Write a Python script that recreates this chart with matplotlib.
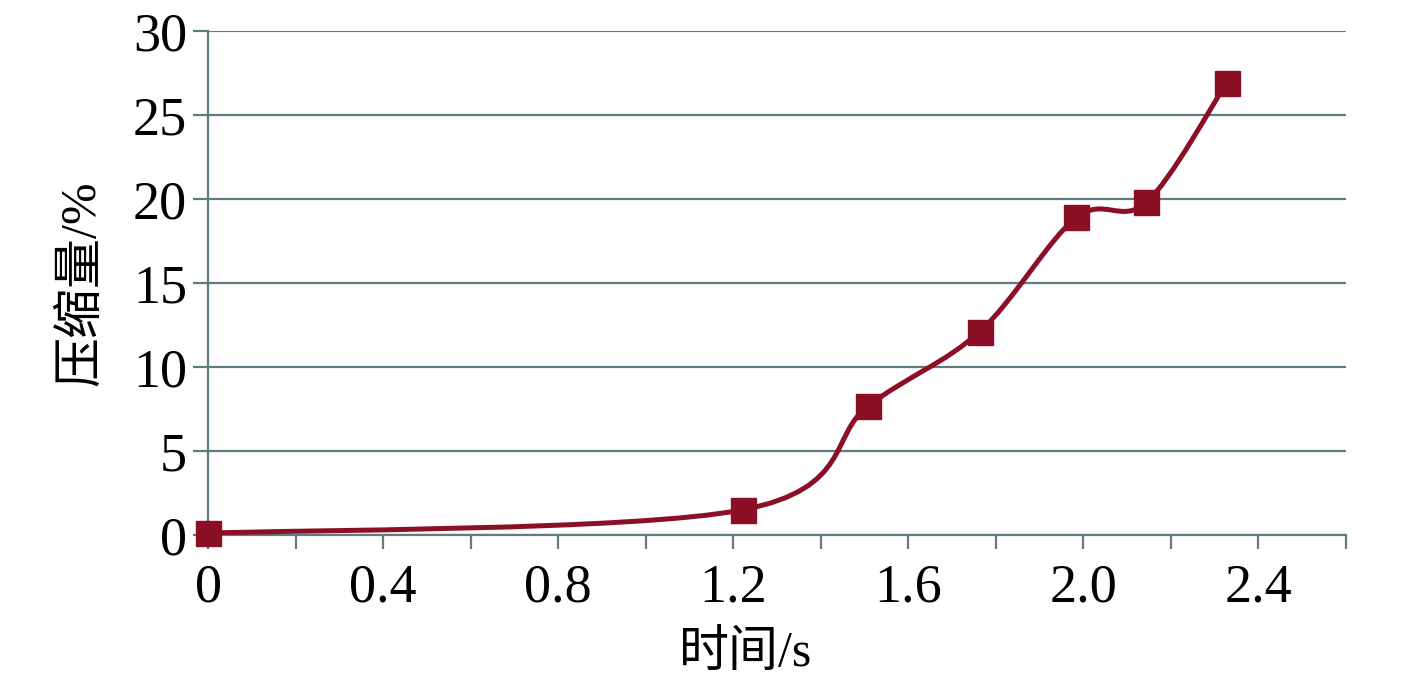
#!/usr/bin/env python3
import numpy as np
import matplotlib
matplotlib.use("Agg")
import matplotlib.pyplot as plt
from matplotlib.path import Path
from matplotlib.patches import PathPatch

plt.rcParams['font.family'] = ['Liberation Serif', 'Noto Sans CJK SC']

# 数据
time_s = [0, 1.222, 1.509, 1.763, 1.984, 2.144, 2.327]
compress = [0.1, 1.5, 7.7, 12.1, 18.9, 19.8, 26.9]

xticks = [0, 0.4, 0.8, 1.2, 1.6, 2.0, 2.4]
xtick_labels = ["0", "0.4", "0.8", "1.2", "1.6", "2.0", "2.4"]
yticks = [0, 5, 10, 15, 20, 25, 30]

line_c = "#8b1026"
grid_c = "#627a82"


# Excel风格平滑曲线 (Catmull-Rom -> Bezier)
def smooth_path(xs, ys):
    pts = np.column_stack([xs, ys]).astype(float)
    n = len(pts)
    verts = [pts[0]]
    codes = [Path.MOVETO]
    for i in range(n - 1):
        p0 = pts[i - 1] if i > 0 else pts[i]
        p1 = pts[i]
        p2 = pts[i + 1]
        p3 = pts[i + 2] if i + 2 < n else pts[i + 1]
        c1 = p1 + (p2 - p0) / 6.0
        c2 = p2 - (p3 - p1) / 6.0
        verts += [c1, c2, p2]
        codes += [Path.CURVE4] * 3
    return Path(verts, codes)


fig = plt.figure(figsize=(14.17, 6.81), dpi=100)
ax = fig.add_axes([0.1468, 0.2144, 0.8031, 0.7401])

ax.add_patch(PathPatch(smooth_path(time_s, compress), fill=False,
                       edgecolor=line_c, lw=3.6, zorder=3))
ax.plot(time_s, compress, ls="none", marker="s", ms=18, color=line_c,
        zorder=4, clip_on=False)

ax.set_xlim(0, 2.6)
ax.set_ylim(0, 30)
ax.set_xticks(np.arange(0, 2.61, 0.2), minor=False)
ax.set_xticklabels([])
ax.set_yticks(yticks)
ax.set_yticklabels([str(v) for v in yticks])

for x, lab in zip(xticks, xtick_labels):
    ax.text(x, -0.055, lab, transform=ax.get_xaxis_transform(),
            ha="center", va="top", fontsize=39)

for y in yticks:
    ax.axhline(y, color=grid_c, lw=1.6, zorder=1)

for s in ["top", "right"]:
    ax.spines[s].set_visible(False)
for s in ["left", "bottom"]:
    ax.spines[s].set_color(grid_c)
    ax.spines[s].set_linewidth(1.6)

ax.tick_params(axis="x", direction="out", length=10, width=1.6, color=grid_c)
ax.tick_params(axis="y", direction="out", length=11, width=1.6, color=grid_c,
               labelsize=39, pad=4)

ax.set_xlabel("时间/s", fontsize=36)
ax.xaxis.set_label_coords(0.472, -0.19)
ax.set_ylabel("压缩量/%", fontsize=36, labelpad=20)

fig.savefig("out.png", dpi=100)
